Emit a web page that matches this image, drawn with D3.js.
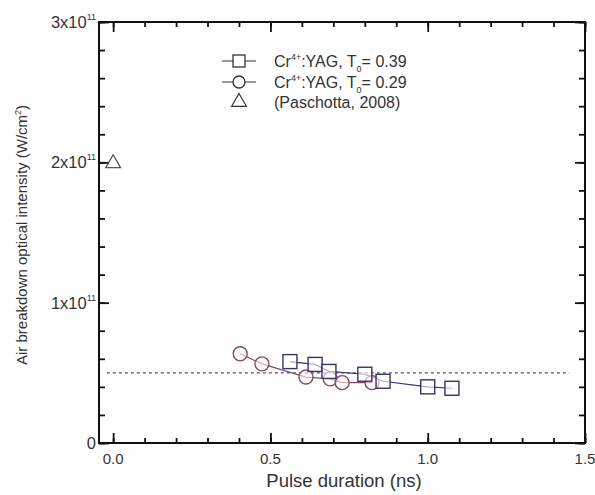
<!DOCTYPE html>
<html><head><meta charset="utf-8">
<script src="https://cdn.jsdelivr.net/npm/d3@7"></script>
<style>
body{margin:0;background:#fff;}
svg{font-family:"Liberation Sans",Arial,sans-serif;}
</style></head>
<body>
<svg id="c" width="595" height="495"></svg>
<script>
// Data (intensity in units of 1e11 W/cm^2, pulse duration in ns)
const sqX = [0.562, 0.642, 0.686, 0.80, 0.858, 1.00, 1.077];
const sqY = [0.58, 0.56, 0.51, 0.49, 0.44, 0.40, 0.39];
const ciX = [0.404, 0.473, 0.613, 0.69, 0.728, 0.823];
const ciY = [0.636, 0.564, 0.47, 0.457, 0.43, 0.43];
const triX = [0.0];
const triY = [2.0];
const thresholdY = 0.5;
const xTicks = [0, 0.5, 1.0, 1.5];
const xTickLabels = ["0.0", "0.5", "1.0", "1.5"];
const yTicks = [0, 1, 2, 3];
const yTickLabels = ["0", "1x10", "2x10", "3x10"];
const legendLabels = [
  {pre:"Cr", sup:"4+", mid:":YAG, T", sub:"0", post:"= 0.39"},
  {pre:"Cr", sup:"4+", mid:":YAG, T", sub:"0", post:"= 0.29"},
  {pre:"(Paschotta, 2008)"}
];

const svg = d3.select("#c");
const L=99, R=585, T=22, B=443;
const xs = d3.scaleLinear().domain([-0.045, 1.5]).range([L, R]);
const ys = d3.scaleLinear().domain([0, 3]).range([B, T]);
const txt = "#333";

const xMinor = d3.range(0, 16, 1).map(v=>v/10);
const yMinor = d3.range(0, 16, 1).map(v=>v/5);

// frame
svg.append("rect").attr("x",L).attr("y",T).attr("width",R-L).attr("height",B-T)
  .attr("fill","none").attr("stroke","#111").attr("stroke-width",2);

function addAxis(axis, tx, ty){
  const g = svg.append("g").attr("transform",`translate(${tx},${ty})`).call(axis);
  g.select(".domain").remove();
  g.selectAll(".tick text").remove();
  g.selectAll(".tick line").attr("stroke","#111").attr("stroke-width",1.8);
}
addAxis(d3.axisBottom(xs).tickValues(xMinor).tickSize(-5), 0, B);
addAxis(d3.axisBottom(xs).tickValues(xTicks).tickSize(-10), 0, B);
addAxis(d3.axisTop(xs).tickValues(xMinor).tickSize(-5), 0, T);
addAxis(d3.axisTop(xs).tickValues(xTicks).tickSize(-10), 0, T);
addAxis(d3.axisLeft(ys).tickValues(yMinor).tickSize(-6), L, 0);
addAxis(d3.axisLeft(ys).tickValues(yTicks).tickSize(-10), L, 0);
addAxis(d3.axisRight(ys).tickValues(yMinor).tickSize(-6), R, 0);
addAxis(d3.axisRight(ys).tickValues(yTicks).tickSize(-10), R, 0);

// x tick labels
svg.selectAll(".xl").data(xTicks).enter().append("text")
  .attr("x",d=>xs(d)).attr("y",B+21).attr("text-anchor","middle")
  .attr("font-size",15).attr("fill",txt).text((d,i)=>xTickLabels[i]);
// y tick labels
yTicks.forEach((d,i)=>{
  const t = svg.append("text").attr("x",L-3).attr("y",ys(d)+6).attr("text-anchor","end")
    .attr("font-size",16.5).attr("fill",txt);
  if(d===0){ t.text(yTickLabels[i]); }
  else {
    t.append("tspan").text(yTickLabels[i]);
    t.append("tspan").attr("dy",-8).attr("font-size",9).text("11");
  }
});

// axis titles
svg.append("text").attr("x",344).attr("y",487).attr("text-anchor","middle")
  .attr("font-size",18.5).attr("fill",txt).text("Pulse duration (ns)");
const ytl = svg.append("text").attr("transform",`translate(27,235) rotate(-90)`)
  .attr("text-anchor","middle").attr("font-size",15).attr("fill",txt);
ytl.append("tspan").text("Air breakdown optical intensity (W/cm");
ytl.append("tspan").attr("dy",-6).attr("font-size",9).text("2");
ytl.append("tspan").attr("dy",6).text(")");

// threshold dashed line
svg.append("line").attr("x1",xs(-0.02)).attr("x2",xs(1.45)).attr("y1",ys(thresholdY)).attr("y2",ys(thresholdY))
  .attr("stroke","#555").attr("stroke-width",1.2).attr("stroke-dasharray","3,3");

const sqCol = "#34346e", ciCol = "#8a4a66", triCol = "#555";
const line = d3.line().x(d=>xs(d[0])).y(d=>ys(d[1]));
const sqData = sqX.map((v,i)=>[v, sqY[i]]);
const ciData = ciX.map((v,i)=>[v, ciY[i]]);

svg.append("path").datum(ciData).attr("d",line).attr("fill","none").attr("stroke",ciCol).attr("stroke-width",1.2);
svg.append("path").datum(sqData).attr("d",line).attr("fill","none").attr("stroke",sqCol).attr("stroke-width",1.2);

svg.selectAll(".ci").data(ciData).enter().append("circle")
  .attr("cx",d=>xs(d[0])).attr("cy",d=>ys(d[1])).attr("r",7)
  .attr("fill","#fff8f0").attr("fill-opacity",0.6).attr("stroke",ciCol).attr("stroke-width",1.4);
svg.selectAll(".sq").data(sqData).enter().append("rect")
  .attr("x",d=>xs(d[0])-7).attr("y",d=>ys(d[1])-7).attr("width",14).attr("height",14)
  .attr("fill","#fff").attr("fill-opacity",0.6).attr("stroke",sqCol).attr("stroke-width",1.4);

const tri = d3.symbol().type(d3.symbolTriangle).size(95);
svg.selectAll(".tri").data(triX.map((v,i)=>[v,triY[i]])).enter().append("path")
  .attr("d",tri).attr("transform",d=>`translate(${xs(d[0])},${ys(d[1])+1})`)
  .attr("fill","none").attr("stroke",triCol).attr("stroke-width",1.3);

// legend
const ly = [61, 82, 102];
const lx0=222, lx1=256, lmx=239, ltx=274;
const lg = svg.append("g");
lg.append("line").attr("x1",lx0).attr("x2",lx1).attr("y1",ly[0]).attr("y2",ly[0]).attr("stroke","#333").attr("stroke-width",1.2);
lg.append("rect").attr("x",lmx-6).attr("y",ly[0]-6).attr("width",12).attr("height",12).attr("fill","#fff").attr("stroke","#333").attr("stroke-width",1.3);
lg.append("line").attr("x1",lx0).attr("x2",lx1).attr("y1",ly[1]).attr("y2",ly[1]).attr("stroke","#333").attr("stroke-width",1.2);
lg.append("circle").attr("cx",lmx).attr("cy",ly[1]).attr("r",6).attr("fill","#fff").attr("stroke","#333").attr("stroke-width",1.3);
lg.append("path").attr("d",tri).attr("transform",`translate(${lmx},${ly[2]})`).attr("fill","none").attr("stroke","#333").attr("stroke-width",1.2);

legendLabels.forEach((l,i)=>{
  const t = lg.append("text").attr("x",ltx).attr("y",ly[i]+6).attr("font-size",16).attr("fill",txt);
  t.append("tspan").text(l.pre);
  if(l.sup){
    t.append("tspan").attr("dy",-7).attr("font-size",9).text(l.sup);
    t.append("tspan").attr("dy",7).text(l.mid);
    t.append("tspan").attr("dy",5).attr("font-size",9).text(l.sub);
    t.append("tspan").attr("dy",-5).text(l.post);
  }
});
</script>
</body></html>
